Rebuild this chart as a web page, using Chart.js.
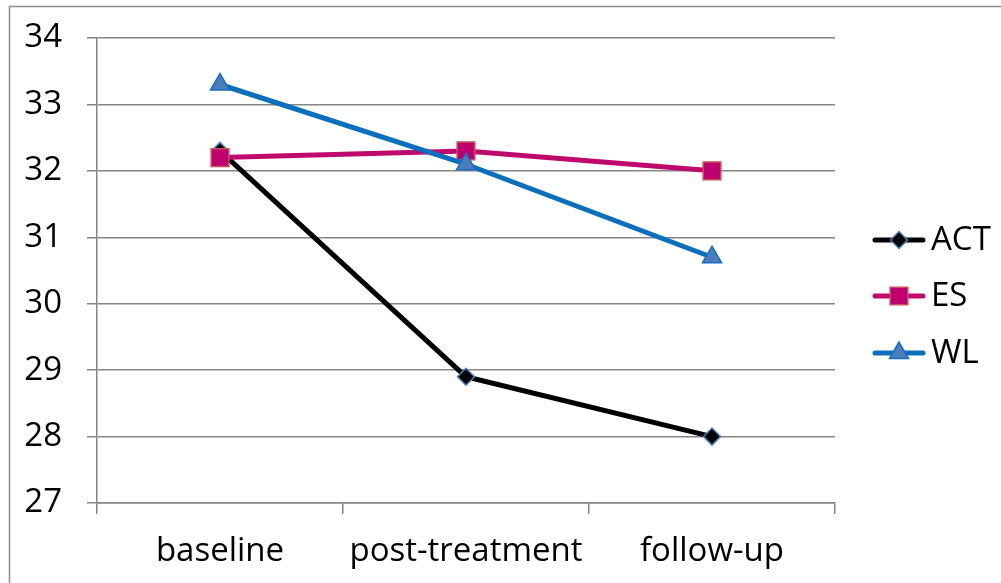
<!DOCTYPE html>
<html>
<head>
<meta charset="utf-8">
<style>
  html, body { margin: 0; padding: 0; background: #ffffff; }
  #wrap { width: 1001px; height: 583px; position: relative; }
</style>
<script src="https://cdn.jsdelivr.net/npm/chart.js@4.4.1/dist/chart.umd.min.js"></script>
</head>
<body>
<div id="wrap"><canvas id="chart" width="1001" height="583"></canvas></div>
<script>
// Mean scores per group at each assessment point
const categories = ['baseline', 'post-treatment', 'follow-up'];
const actValues = [32.3, 28.9, 28.0];
const esValues = [32.2, 32.3, 32.0];
const wlValues = [33.3, 32.1, 30.7];
const yTicks = [27, 28, 29, 30, 31, 32, 33, 34];

const FONT = "'Open Sans', 'DejaVu Sans', sans-serif";
const FONT_SIZE = 33;
const AXIS_GRAY = '#868686';

const seriesStyle = {
  ACT: { line: '#000000', fill: '#000000', edge: '#4a7ebb', shape: 'rectRot', radius: 8.5 },
  ES:  { line: '#be0a6c', fill: '#be006e', edge: '#c8505a', shape: 'rect', radius: 12.5 },
  WL:  { line: '#0a70be', fill: '#4a7ebb', edge: '#1a6cc0', shape: 'triangle', radius: 11 }
};

function makeDataset(label, values, order) {
  const s = seriesStyle[label];
  return {
    label: label,
    data: values,
    order: order,
    borderColor: s.line,
    borderWidth: 5,
    borderCapStyle: 'round',
    borderJoinStyle: 'round',
    tension: 0,
    pointStyle: s.shape,
    pointRadius: s.radius,
    pointHoverRadius: s.radius,
    pointBackgroundColor: s.fill,
    pointBorderColor: s.edge,
    pointBorderWidth: 1.5
  };
}

// Outer frame around the whole chart
const framePlugin = {
  id: 'frame',
  beforeDraw(chart) {
    const ctx = chart.ctx;
    ctx.save();
    ctx.fillStyle = '#ffffff';
    ctx.fillRect(0, 0, chart.width, chart.height);
    ctx.strokeStyle = '#8c8c8c';
    ctx.lineWidth = 1.5;
    ctx.strokeRect(9.5, 6.5, chart.width + 20, chart.height + 20);
    ctx.restore();
  }
};

// Legend with a line segment through each marker
const lineLegendPlugin = {
  id: 'lineLegend',
  afterDraw(chart) {
    const ctx = chart.ctx;
    const rowY = [240, 296, 353];
    const x0 = 875, x1 = 923, xm = 899;
    ctx.save();
    chart.data.datasets.forEach((ds, i) => {
      const y = rowY[i];
      ctx.strokeStyle = ds.borderColor;
      ctx.lineWidth = 5;
      ctx.lineCap = 'round';
      ctx.beginPath();
      ctx.moveTo(x0, y);
      ctx.lineTo(x1, y);
      ctx.stroke();
      ctx.fillStyle = ds.pointBackgroundColor;
      ctx.strokeStyle = ds.pointBorderColor;
      ctx.lineWidth = ds.pointBorderWidth;
      Chart.helpers.drawPoint(ctx, {
        pointStyle: ds.pointStyle,
        radius: ds.pointRadius,
        borderWidth: ds.pointBorderWidth,
        rotation: 0
      }, xm, y);
      ctx.fillStyle = '#000000';
      ctx.font = FONT_SIZE + 'px ' + FONT;
      ctx.textAlign = 'left';
      ctx.textBaseline = 'middle';
      ctx.fillText(ds.label, 931, y + 1);
    });
    ctx.restore();
  }
};

new Chart(document.getElementById('chart'), {
  type: 'line',
  data: {
    labels: categories,
    datasets: [
      makeDataset('ACT', actValues, 3),
      makeDataset('ES', esValues, 2),
      makeDataset('WL', wlValues, 1)
    ]
  },
  options: {
    responsive: false,
    animation: false,
    devicePixelRatio: 1,
    layout: { padding: { top: 38, right: 166, left: 0, bottom: 0 } },
    plugins: {
      legend: { display: false },
      tooltip: { enabled: false }
    },
    scales: {
      x: {
        type: 'category',
        offset: true,
        afterFit(scale) {
          scale.height = 80;
          scale.paddingLeft = 0;
          scale.paddingRight = 0;
        },
        grid: {
          offset: true,
          drawOnChartArea: false,
          drawTicks: true,
          tickLength: 11,
          color: AXIS_GRAY,
          lineWidth: 1.5
        },
        border: { display: true, color: AXIS_GRAY, width: 1.5 },
        ticks: {
          color: '#000000',
          padding: 18,
          maxRotation: 0,
          font: { family: FONT, size: FONT_SIZE }
        }
      },
      y: {
        min: yTicks[0],
        max: yTicks[yTicks.length - 1],
        afterFit(scale) {
          scale.width = 97;
          scale.paddingTop = 0;
          scale.paddingBottom = 0;
        },
        afterBuildTicks(scale) { scale.ticks = yTicks.map(v => ({ value: v })); },
        grid: {
          color: AXIS_GRAY,
          lineWidth: 1.5,
          drawTicks: true,
          tickLength: 10
        },
        border: { display: true, color: AXIS_GRAY, width: 1.5 },
        ticks: {
          color: '#000000',
          padding: 25,
          font: { family: FONT, size: FONT_SIZE }
        }
      }
    }
  },
  plugins: [framePlugin, lineLegendPlugin]
});
</script>
</body>
</html>
